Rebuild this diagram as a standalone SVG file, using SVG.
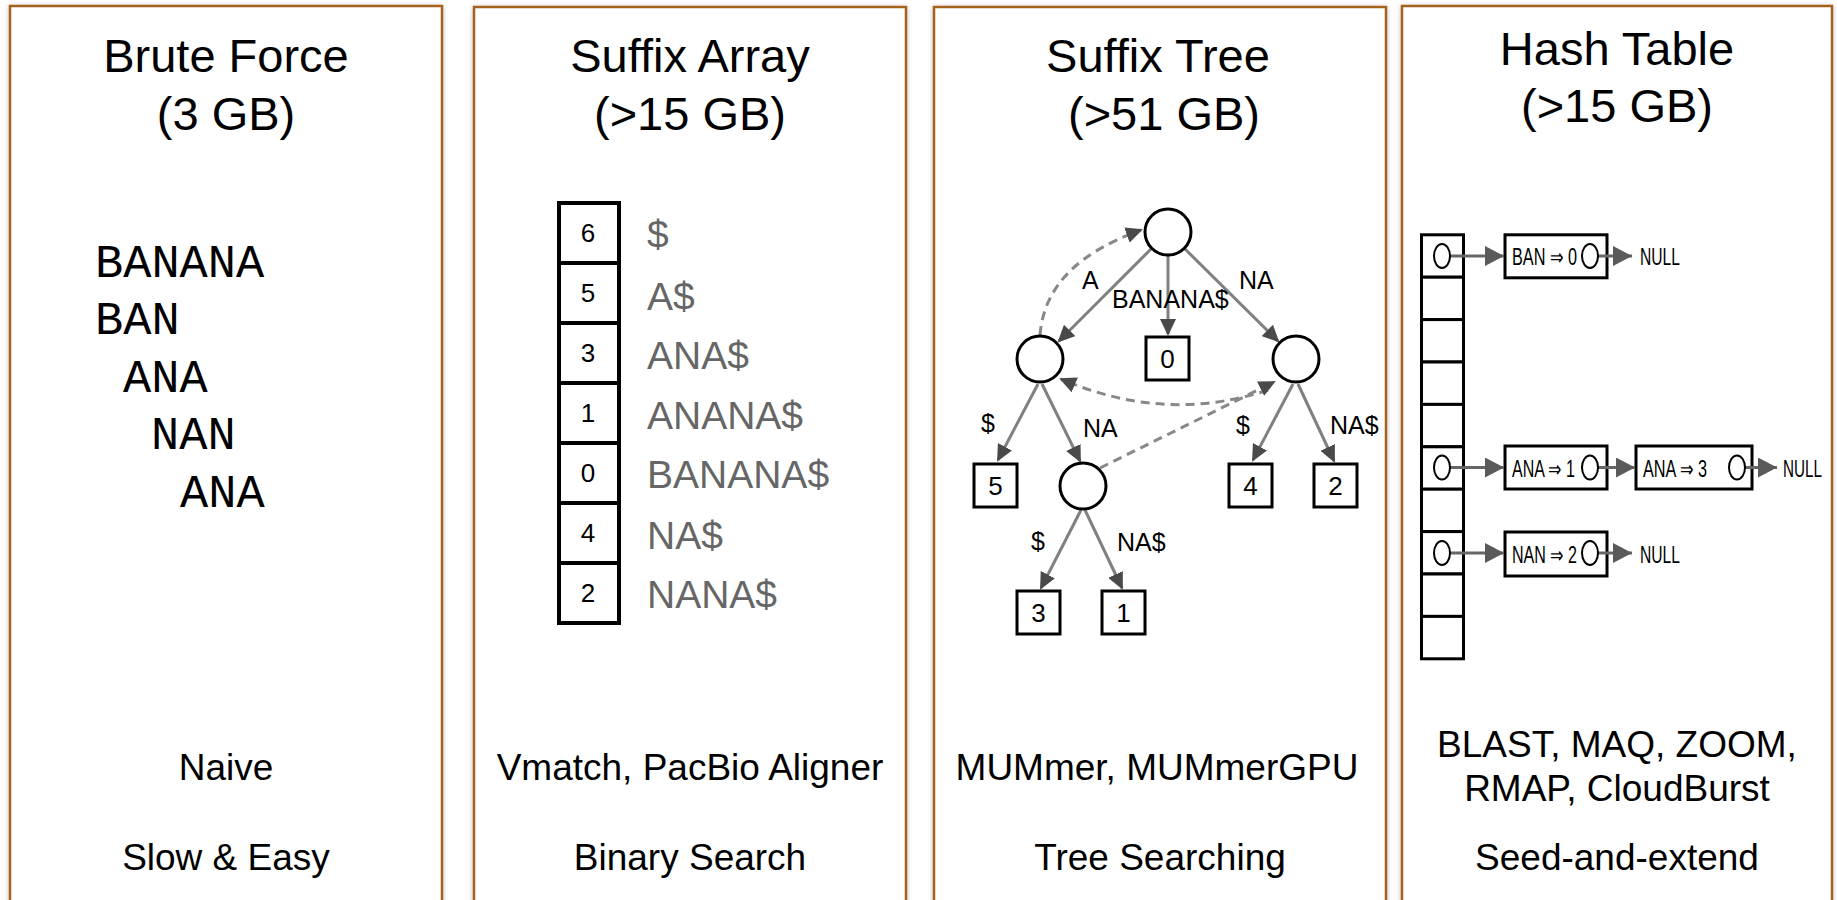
<svg xmlns="http://www.w3.org/2000/svg" width="1837" height="900" viewBox="0 0 1837 900">
<defs>
<filter id="sh" x="-5%" y="-5%" width="110%" height="110%">
<feDropShadow dx="0" dy="1" stdDeviation="2.5" flood-color="#000" flood-opacity="0.25"/>
</filter>
<marker id="ta" markerUnits="userSpaceOnUse" markerWidth="18" markerHeight="16" refX="15" refY="8" orient="auto">
<path d="M0,0 L17,8 L0,16 z" fill="#4a4a4a"/>
</marker>
<marker id="ha" markerUnits="userSpaceOnUse" markerWidth="20" markerHeight="22" refX="19" refY="10" orient="auto">
<path d="M0,0 L19,10 L0,20 z" fill="#5a5a5a"/>
</marker>
</defs>
<style>
.panel{fill:#fff;stroke:#a5621e;stroke-width:2.5}
.title{font-family:"Liberation Sans",Arial,sans-serif;font-size:47px;fill:#000;text-anchor:middle}
.foot{font-family:"Liberation Sans",Arial,sans-serif;font-size:37px;fill:#000;text-anchor:middle}
.mono{font-family:"Liberation Mono","Courier New",monospace;font-size:47px;fill:#000}
.cell{fill:#fff;stroke:#000;stroke-width:4}
.num{font-family:"Liberation Sans",Arial,sans-serif;font-size:26px;fill:#000;text-anchor:middle}
.suf{font-family:"Liberation Sans",Arial,sans-serif;font-size:39px;fill:#666}
.node{fill:#fff;stroke:#000;stroke-width:3}
.leaf{fill:#fff;stroke:#000;stroke-width:3}
.lbl{font-family:"Liberation Sans",Arial,sans-serif;font-size:25px;fill:#000}
.edge{stroke:#808080;stroke-width:3;fill:none}
.dash{stroke:#888;stroke-width:3;fill:none;stroke-dasharray:9 6}
.hcell{fill:#fff;stroke:#000;stroke-width:3}
.hell{fill:#fff;stroke:#000;stroke-width:2}
.harr{stroke:#666;stroke-width:3;fill:none}
.htxt{font-family:"Liberation Sans",Arial,sans-serif;font-size:23px;fill:#000}
</style>

<g id="panels" filter="url(#sh)">
<rect class="panel" x="10" y="6" width="432" height="950"/>
<rect class="panel" x="474" y="7" width="432" height="950"/>
<rect class="panel" x="934" y="7" width="452" height="950"/>
<rect class="panel" x="1402" y="6" width="430" height="950"/>
</g>

<g id="brute-force">
<text class="title" x="226" y="72">Brute Force</text>
<text class="title" x="226" y="130">(3 GB)</text>
<text class="mono" x="95" y="277">BANANA</text>
<text class="mono" x="95" y="334">BAN</text>
<text class="mono" x="123" y="392">ANA</text>
<text class="mono" x="151" y="449">NAN</text>
<text class="mono" x="180" y="507">ANA</text>
<text class="foot" x="226" y="780">Naive</text>
<text class="foot" x="226" y="870">Slow &amp; Easy</text>
</g>

<g id="suffix-array">
<text class="title" x="690" y="72">Suffix Array</text>
<text class="title" x="690" y="130">(&gt;15 GB)</text>
<rect class="cell" x="559" y="203" width="60" height="60"/>
<rect class="cell" x="559" y="263" width="60" height="60"/>
<rect class="cell" x="559" y="323" width="60" height="60"/>
<rect class="cell" x="559" y="383" width="60" height="60"/>
<rect class="cell" x="559" y="443" width="60" height="60"/>
<rect class="cell" x="559" y="503" width="60" height="60"/>
<rect class="cell" x="559" y="563" width="60" height="60"/>
<text class="num" x="588" y="242">6</text>
<text class="num" x="588" y="302">5</text>
<text class="num" x="588" y="362">3</text>
<text class="num" x="588" y="422">1</text>
<text class="num" x="588" y="482">0</text>
<text class="num" x="588" y="542">4</text>
<text class="num" x="588" y="602">2</text>
<text class="suf" x="647" y="248">$</text>
<text class="suf" x="647" y="310">A$</text>
<text class="suf" x="647" y="369">ANA$</text>
<text class="suf" x="647" y="429">ANANA$</text>
<text class="suf" x="647" y="488">BANANA$</text>
<text class="suf" x="647" y="549">NA$</text>
<text class="suf" x="647" y="608">NANA$</text>
<text class="foot" x="690" y="780">Vmatch, PacBio Aligner</text>
<text class="foot" x="690" y="870">Binary Search</text>
</g>

<g id="suffix-tree-connectors">
<line class="edge" x1="1152" y1="248" x2="1059" y2="341" marker-end="url(#ta)"/>
<line class="edge" x1="1168" y1="255" x2="1168" y2="334" marker-end="url(#ta)"/>
<line class="edge" x1="1184" y1="248" x2="1278" y2="341" marker-end="url(#ta)"/>
<line class="edge" x1="1038" y1="384" x2="998" y2="460" marker-end="url(#ta)"/>
<line class="edge" x1="1042" y1="384" x2="1080" y2="461" marker-end="url(#ta)"/>
<line class="edge" x1="1293" y1="384" x2="1253" y2="460" marker-end="url(#ta)"/>
<line class="edge" x1="1298" y1="384" x2="1334" y2="461" marker-end="url(#ta)"/>
<line class="edge" x1="1081" y1="510" x2="1041" y2="588" marker-end="url(#ta)"/>
<line class="edge" x1="1085" y1="510" x2="1122" y2="588" marker-end="url(#ta)"/>
<path class="dash" d="M1040,335 C1044,285 1080,252 1141,230" marker-end="url(#ta)"/>
<path class="dash" d="M1268,390 Q1165,424 1061,379" marker-end="url(#ta)"/>
<path class="dash" d="M1100,468 L1274,382" marker-end="url(#ta)"/>
</g>

<g id="suffix-tree">
<text class="title" x="1158" y="72">Suffix Tree</text>
<text class="title" x="1164" y="130">(&gt;51 GB)</text>
<circle class="node" cx="1168" cy="232" r="23"/>
<circle class="node" cx="1040" cy="359" r="23"/>
<circle class="node" cx="1296" cy="359" r="23"/>
<circle class="node" cx="1083" cy="486" r="23"/>
<rect class="leaf" x="1146" y="337" width="43" height="43"/>
<rect class="leaf" x="974" y="464" width="43" height="43"/>
<rect class="leaf" x="1229" y="464" width="43" height="43"/>
<rect class="leaf" x="1314" y="464" width="43" height="43"/>
<rect class="leaf" x="1017" y="591" width="43" height="43"/>
<rect class="leaf" x="1102" y="591" width="43" height="43"/>
<text class="num" x="1167.5" y="368">0</text>
<text class="num" x="995.5" y="495">5</text>
<text class="num" x="1250.5" y="495">4</text>
<text class="num" x="1335.5" y="495">2</text>
<text class="num" x="1038.5" y="622">3</text>
<text class="num" x="1123.5" y="622">1</text>
<text class="lbl" x="1082" y="289">A</text>
<text class="lbl" x="1112" y="308">BANANA$</text>
<text class="lbl" x="1239" y="289">NA</text>
<text class="lbl" x="981" y="432">$</text>
<text class="lbl" x="1083" y="437">NA</text>
<text class="lbl" x="1236" y="434">$</text>
<text class="lbl" x="1330" y="434">NA$</text>
<text class="lbl" x="1031" y="550">$</text>
<text class="lbl" x="1117" y="551">NA$</text>
<text class="foot" x="1157" y="780">MUMmer, MUMmerGPU</text>
<text class="foot" x="1160" y="870">Tree Searching</text>
</g>

<g id="hash-table">
<text class="title" x="1617" y="65">Hash Table</text>
<text class="title" x="1617" y="122">(&gt;15 GB)</text>
<rect class="hcell" x="1421.5" y="234.8" width="42" height="42.4"/>
<rect class="hcell" x="1421.5" y="277.2" width="42" height="42.4"/>
<rect class="hcell" x="1421.5" y="319.6" width="42" height="42.4"/>
<rect class="hcell" x="1421.5" y="362" width="42" height="42.4"/>
<rect class="hcell" x="1421.5" y="404.4" width="42" height="42.4"/>
<rect class="hcell" x="1421.5" y="446.8" width="42" height="42.4"/>
<rect class="hcell" x="1421.5" y="489.2" width="42" height="42.4"/>
<rect class="hcell" x="1421.5" y="531.6" width="42" height="42.4"/>
<rect class="hcell" x="1421.5" y="574" width="42" height="42.4"/>
<rect class="hcell" x="1421.5" y="616.4" width="42" height="42.4"/>
<rect class="hcell" x="1505" y="234.8" width="102" height="43"/>
<rect class="hcell" x="1505" y="446" width="102" height="43"/>
<rect class="hcell" x="1636" y="446" width="116" height="43"/>
<rect class="hcell" x="1505" y="532" width="102" height="44"/>
<text class="htxt" x="1512" y="265" textLength="65" lengthAdjust="spacingAndGlyphs">BAN ⇒ 0</text>
<text class="htxt" x="1640" y="265" textLength="40" lengthAdjust="spacingAndGlyphs">NULL</text>
<text class="htxt" x="1512" y="477" textLength="63" lengthAdjust="spacingAndGlyphs">ANA ⇒ 1</text>
<text class="htxt" x="1643" y="477" textLength="64" lengthAdjust="spacingAndGlyphs">ANA ⇒ 3</text>
<text class="htxt" x="1783" y="477" textLength="39" lengthAdjust="spacingAndGlyphs">NULL</text>
<text class="htxt" x="1512" y="563" textLength="65" lengthAdjust="spacingAndGlyphs">NAN ⇒ 2</text>
<text class="htxt" x="1640" y="563" textLength="40" lengthAdjust="spacingAndGlyphs">NULL</text>
<text class="foot" x="1617" y="757">BLAST, MAQ, ZOOM,</text>
<text class="foot" x="1617" y="801">RMAP, CloudBurst</text>
<text class="foot" x="1617" y="870">Seed-and-extend</text>
</g>

<g id="hash-connectors">
<line class="harr" x1="1450" y1="256" x2="1504" y2="256" marker-end="url(#ha)"/>
<line class="harr" x1="1598" y1="256" x2="1632" y2="256" marker-end="url(#ha)"/>
<line class="harr" x1="1450" y1="467.5" x2="1504" y2="467.5" marker-end="url(#ha)"/>
<line class="harr" x1="1598" y1="467.5" x2="1635" y2="467.5" marker-end="url(#ha)"/>
<line class="harr" x1="1745" y1="467.5" x2="1777" y2="467.5" marker-end="url(#ha)"/>
<line class="harr" x1="1450" y1="553" x2="1504" y2="553" marker-end="url(#ha)"/>
<line class="harr" x1="1598" y1="553" x2="1632" y2="553" marker-end="url(#ha)"/>
</g>

<g id="hash-pointers">
<ellipse class="hell" cx="1442" cy="256" rx="8" ry="12"/>
<ellipse class="hell" cx="1442" cy="467.5" rx="8" ry="12"/>
<ellipse class="hell" cx="1442" cy="553" rx="8" ry="12"/>
<ellipse class="hell" cx="1590" cy="256" rx="8" ry="12"/>
<ellipse class="hell" cx="1590" cy="467.5" rx="8" ry="12"/>
<ellipse class="hell" cx="1737" cy="467.5" rx="8" ry="12"/>
<ellipse class="hell" cx="1590" cy="553" rx="8" ry="12"/>
</g>
</svg>
